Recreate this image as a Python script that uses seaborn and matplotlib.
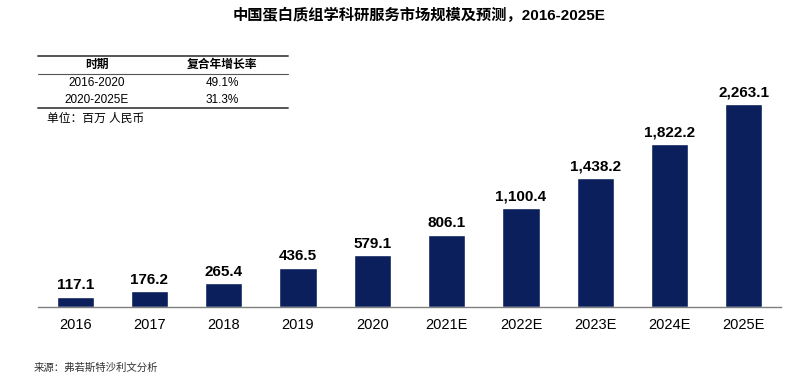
import matplotlib
matplotlib.use("Agg")
import matplotlib.pyplot as plt
import seaborn as sns
import pandas as pd

years = ["2016", "2017", "2018", "2019", "2020", "2021E", "2022E", "2023E", "2024E", "2025E"]
market_size = [117.1, 176.2, 265.4, 436.5, 579.1, 806.1, 1100.4, 1438.2, 1822.2, 2263.1]

cagr_periods = ["2016-2020", "2020-2025E"]
cagr_values = ["49.1%", "31.3%"]

title = "中国蛋白质组学科研服务市场规模及预测，2016-2025E"
unit_note = "单位：百万 人民币"
source_note = "来源：弗若斯特沙利文分析"

sns.set_style("white")
plt.rcParams['font.family'] = ['Liberation Sans', 'Noto Sans CJK SC', 'DejaVu Sans']
plt.rcParams['text.color'] = 'black'

df = pd.DataFrame({"year": years, "value": market_size})
bar_color = "#0B1F5C"

fig = plt.figure(figsize=(8.02, 3.78), dpi=100)
W, H = 802, 378
x0, x1 = 38, 781
y_base, y_top = 307, 92
ax = fig.add_axes([x0 / W, (H - y_base) / H, (x1 - x0) / W, (y_base - y_top) / H])

sns.barplot(data=df, x="year", y="value", color=bar_color, width=0.5, ax=ax,
            saturation=1)
ax.set_xlim(-0.5, len(years) - 0.5)
ax.set_ylim(0, 2400)
ax.set_xlabel("")
ax.set_ylabel("")
ax.set_yticks([])
for s in ["top", "right", "left"]:
    ax.spines[s].set_visible(False)
ax.spines["bottom"].set_color("#7f7f7f")
ax.spines["bottom"].set_linewidth(1.0)
ax.tick_params(axis="x", length=0, pad=8, labelsize=10.5, colors="black")

for i, v in enumerate(market_size):
    ax.text(i, v + 50, f"{v:,.1f}", ha="center", va="bottom",
            fontsize=11, fontweight="bold", color="black")

fig.text(419 / W, 1 - 15 / H, title, ha="center", va="center",
         fontsize=11, fontweight="bold")

# CAGR table
tl, tr = 38 / W, 288 / W
def hline(y, lw=1.2, color="#555555"):
    fig.add_artist(plt.Line2D([tl, tr], [1 - y / H, 1 - y / H], color=color, lw=lw))

hline(56, 1.4)
hline(74, 0.8)
hline(108, 1.4)
fig.text(97 / W, 1 - 65 / H, "时期", ha="center", va="center", fontsize=8.5, fontweight="bold")
fig.text(222 / W, 1 - 65 / H, "复合年增长率", ha="center", va="center", fontsize=8.5, fontweight="bold")
for j, (p, c) in enumerate(zip(cagr_periods, cagr_values)):
    y = 83 + j * 17
    fig.text(97 / W, 1 - y / H, p, ha="center", va="center", fontsize=8.5)
    fig.text(222 / W, 1 - y / H, c, ha="center", va="center", fontsize=8.5)

fig.text(47 / W, 1 - 119 / H, unit_note, ha="left", va="center", fontsize=8.5)
fig.text(34 / W, 1 - 368 / H, source_note, ha="left", va="center", fontsize=7.5,
         style="italic", color="#333333")

fig.savefig("out.png", dpi=100)
